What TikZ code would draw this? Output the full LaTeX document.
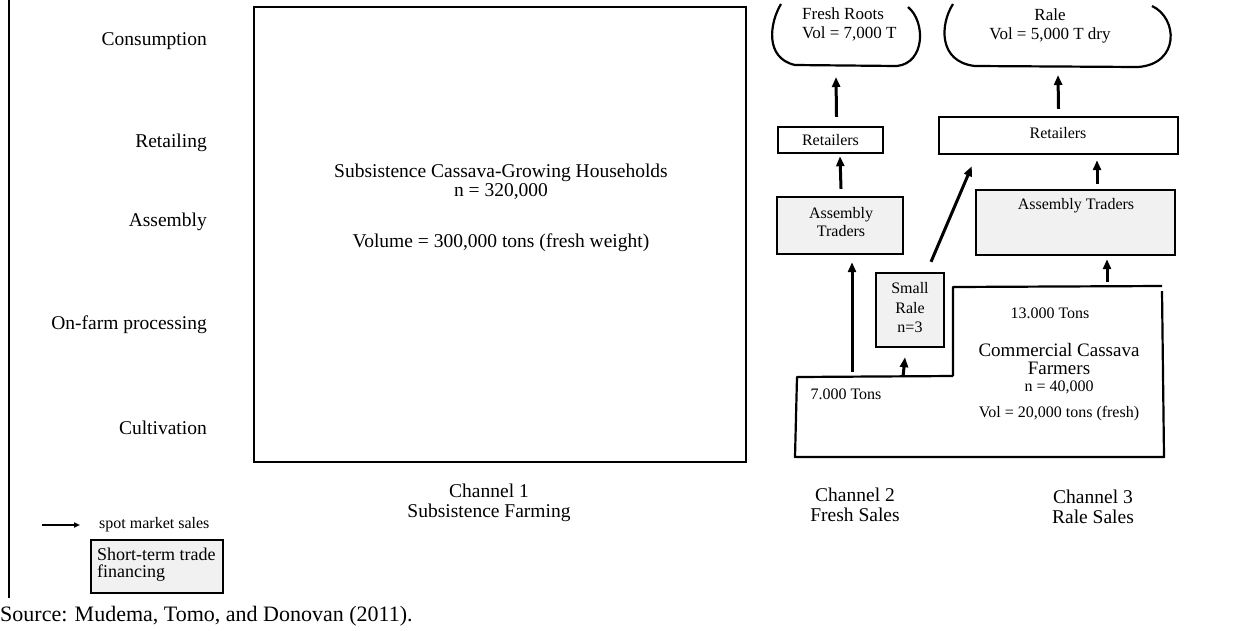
\documentclass[tikz,border=0pt]{standalone}
\usepackage{fontspec}
\setmainfont{Liberation Serif}
\usetikzlibrary{arrows.meta,calc}
\definecolor{gfill}{HTML}{F1F1F1}
\begin{document}
\begin{tikzpicture}[x=1pt,y=-1pt,
  big/.style={inner sep=0pt, font=\fontsize{19.5}{19.5}\selectfont, align=center},
  sml/.style={inner sep=0pt, font=\fontsize{16}{18}\selectfont, align=center},
  mid/.style={inner sep=0pt, font=\fontsize{17}{19}\selectfont},
  cft/.style={inner sep=0pt, font=\fontsize{19}{19}\selectfont},
  box/.style={draw, line width=2.4pt, inner sep=0pt},
  gbox/.style={box, fill=gfill},
  arr/.style={line width=3pt, -{Triangle[length=10pt,width=8pt]}},
  larr/.style={line width=1.5pt, -{Triangle[length=6pt,width=5pt]}},
  outl/.style={line width=2.2pt, line join=round}
]
\useasboundingbox (0,0) rectangle (1247,630);

% left frame
\draw[line width=2pt] (9,0) -- (9,598);

% stage labels
\node[big, anchor=east] (lcons) at (207,41) {Consumption};
\node[big, anchor=east] (lret)  at (207,143) {Retailing};
\node[big, anchor=east] (lass)  at (207,222) {Assembly};
\node[big, anchor=east] (lofp)  at (207,325) {On-farm processing};
\node[big, anchor=east] (lcul)  at (207,428) {Cultivation};

% channel 1
\node[box, minimum width=492pt, minimum height=455pt] (sub) at (500,234.5) {};
\node[big] (subt) at (501,173) {Subsistence Cassava-Growing Households};
\node[big] (subn) at (501,192) {n = 320,000};
\node[big] (subv) at (501,243) {Volume = 300,000 tons (fresh weight)};
\node[big] (ch1) at (489,503) {Channel 1\\Subsistence Farming};

% consumption brackets
\draw[outl] (781,4) .. controls (770,22) and (764,58) .. (795,65)
  -- (897,66) .. controls (925,63) and (926,22) .. (908,7);
\coordinate (frb) at (836,66);
\node[mid, align=left, anchor=north west] (fr) at (802,8) {Fresh Roots\\Vol = 7,000 T};

\draw[outl] (953,4) .. controls (940,24) and (938,62) .. (975,66)
  -- (1138,67) .. controls (1180,64) and (1178,18) .. (1152,6);
\coordinate (rab) at (1058,67);
\node[mid, align=center] (ra) at (1050,26) {Rale\\Vol = 5,000 T dry};

% channel 2 boxes
\node[box, minimum width=105pt, minimum height=26pt, sml] (r2) at (830.5,140) {Retailers};
\node[gbox, minimum width=126pt, minimum height=57pt, sml] (a2) at (840,225.5) {};
\node[sml] (a2t) at (841,222) {Assembly\\Traders};
\node[gbox, minimum width=68pt, minimum height=74pt, sml] (sr) at (910,310) {};
\node[sml, font=\fontsize{16}{19.5}\selectfont] (srt) at (910,308) {Small\\Rale\\n=3};

% channel 3 boxes
\node[box, minimum width=239pt, minimum height=37pt] (r3) at (1058.5,135.5) {};
\node[sml] (r3t) at (1058,133) {Retailers};
\node[gbox, minimum width=199pt, minimum height=65pt] (a3) at (1075.5,222.5) {};
\node[sml] (a3t) at (1076,206) {Assembly Traders};

% commercial farmers outline
\draw[outl] (953,376) -- (953,287) -- (1162,286);
\draw[outl] (1162,291) -- (1164,457) -- (795,457) -- (797,377) -- (953,376);
\coordinate (c2) at (852,377);
\coordinate (c2b) at (903,377);
\coordinate (c3) at (1107,286);
\node[sml] (t13) at (1050,313) {13.000 Tons};
\node[sml] (t7) at (846,394) {7.000 Tons};
\node[cft] (cf1) at (1059,350) {Commercial Cassava};
\node[cft] (cf2) at (1059,368) {Farmers};
\node[sml] (cfn) at (1059,387) {n = 40,000};
\node[sml] (cfv) at (1059,414) {Vol = 20,000 tons (fresh)};

% channel labels
\node[big] (ch2) at (855,505) {Channel 2\\Fresh Sales};
\node[big] (ch3) at (1093,507) {Channel 3\\Rale Sales};

% arrows
\draw[arr] ($(r2.north)+(6,-9)$) -- ($(frb)+(0,11)$);
\draw[arr] ($(a2.north)+(1,-7)$) -- ($(r2.south)+(9.5,2)$);
\draw[arr] ($(c2)+(0,-5)$) -- ($(a2.south)+(12,7)$);
\draw[arr] ($(c2b)+(0,0)$) -- ($(sr.south)+(-5,9)$);
\draw[arr] ($(sr.north)+(21,-10)$) -- ($(r3.south west)+(34,11)$);
\draw[arr] ($(a3.north)+(21.5,-5)$) -- ($(r3.south)+(38.5,5)$);
\draw[arr] ($(c3)+(0,-4)$) -- ($(a3.south)+(31.5,3)$);
\draw[arr] ($(r3.north)+(0,-7)$) -- ($(rab)+(0,8)$);

% legend
\coordinate (lga) at (42,525);
\node[sml, anchor=west] (lgt) at (99,525) {spot market sales};
\draw[larr] (lga) -- ($(lgt.west)+(-19,0)$);
\node[gbox, line width=2pt, minimum width=132pt, minimum height=53pt] (lgb) at (157,566.5) {};
\node[inner sep=0pt, font=\fontsize{18}{17}\selectfont, align=left, anchor=north west] (lgbt) at (97,548) {Short-term trade\\financing};

% source
\node[inner sep=0pt, font=\fontsize{22}{22}\selectfont, anchor=west] (src) at (0,616) {Source: Mudema, Tomo, and Donovan (2011).};
\end{tikzpicture}
\end{document}
